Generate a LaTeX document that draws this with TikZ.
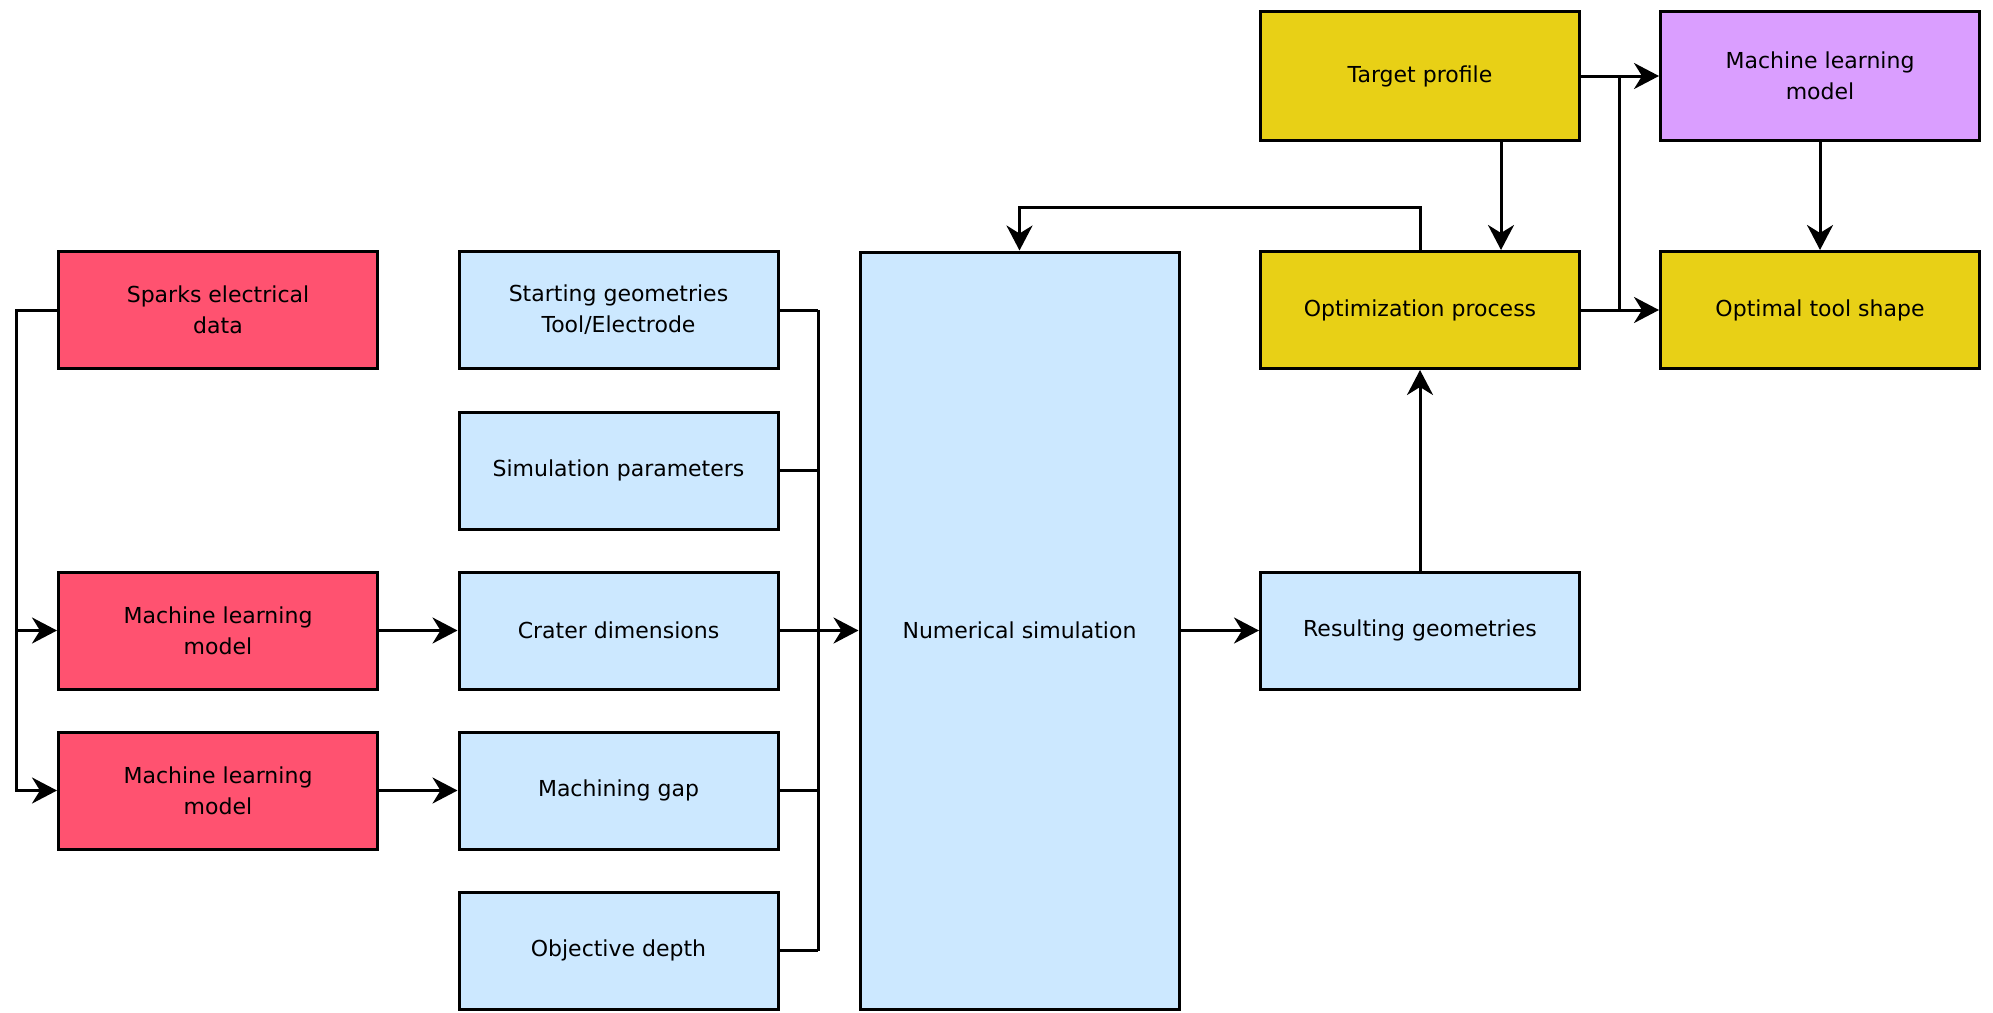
\documentclass[tikz,border=0pt]{standalone}
\usepackage{fontspec}
\setmainfont{DejaVu Sans}
\usetikzlibrary{arrows.meta}
\definecolor{mlred}{RGB}{255,82,112}
\definecolor{simblue}{RGB}{204,232,255}
\definecolor{optyellow}{RGB}{232,208,22}
\definecolor{mlpurple}{RGB}{218,158,255}
\begin{document}
\begin{tikzpicture}[x=1pt,y=-1pt,
  box/.style={draw=black, line width=3pt, minimum width=319pt, minimum height=117pt,
    align=center, inner sep=0pt, font=\fontsize{22}{31}\selectfont},
  tall/.style={box, minimum height=129pt},
  conn/.style={line width=3pt},
  arr/.style={conn, -{Stealth[length=25pt,width=26pt,inset=8pt]}}
]
\useasboundingbox (0,0) rectangle (1993,1012);

% input side: spark data and learned models
\node[box, fill=mlred] (sparks) at (218,310) {Sparks electrical\\data};
\node[box, fill=mlred] (mla) at (218,630.5) {Machine learning\\model};
\node[box, fill=mlred] (mlb) at (218,790.5) {Machine learning\\model};

% simulation inputs
\node[box, fill=simblue] (sg) at (618.5,310) {Starting geometries\\Tool/Electrode};
\node[box, fill=simblue] (sp) at (618.5,470.5) {Simulation parameters};
\node[box, fill=simblue] (cd) at (618.5,630.5) {Crater dimensions};
\node[box, fill=simblue] (mg) at (618.5,790.5) {Machining gap};
\node[box, fill=simblue] (od) at (618.5,950.5) {Objective depth};

% simulation and its result
\node[box, fill=simblue, minimum height=757pt] (num) at (1019.5,630.5) {Numerical simulation};
\node[box, fill=simblue] (res) at (1420,630.5) {Resulting geometries};

% optimisation loop
\node[tall, fill=optyellow] (target) at (1420,76) {Target profile};
\node[box, fill=optyellow] (opt) at (1420,310) {Optimization process};
\node[tall, fill=mlpurple] (mlc) at (1820,76) {Machine learning\\model};
\node[box, fill=optyellow] (tool) at (1820,310) {Optimal tool shape};

% bus lines
\coordinate (lbus) at (16,0);
\coordinate (bbus) at (818,0);
\coordinate (rbus) at (1619,0);

% sparks feed both models
\draw[arr] (sparks.west) -- (sparks.west -| lbus) |- (mlb.west);
\draw[arr] (sparks.west -| lbus) |- (mla.west);
\draw[arr] (mla.east) -- (cd.west);
\draw[arr] (mlb.east) -- (mg.west);

% inputs gathered into the simulation
\draw[conn] (sg.east) -- (sg.east -| bbus);
\draw[conn] (sp.east) -- (sp.east -| bbus);
\draw[conn] (mg.east) -- (mg.east -| bbus);
\draw[conn] (od.east) -- (od.east -| bbus);
\draw[conn] (sg.east -| bbus) -- (od.east -| bbus);
\draw[arr] (cd.east) -- (num.west);

% simulation -> result -> optimisation
\draw[arr] (num.east) -- (res.west);
\draw[arr] (res.north) -- (opt.south);
\draw[arr] (opt.north) -- ++(0,-43) -| (num.north);
\draw[arr] ([xshift=81pt]target.south) -- ([xshift=81pt]opt.north);

% towards the tool shape
\draw[arr] (target.east) -- (mlc.west);
\draw[conn] (target.east -| rbus) -- (opt.east -| rbus);
\draw[arr] (opt.east) -- (tool.west);
\draw[arr] (mlc.south) -- (tool.north);
\end{tikzpicture}
\end{document}
